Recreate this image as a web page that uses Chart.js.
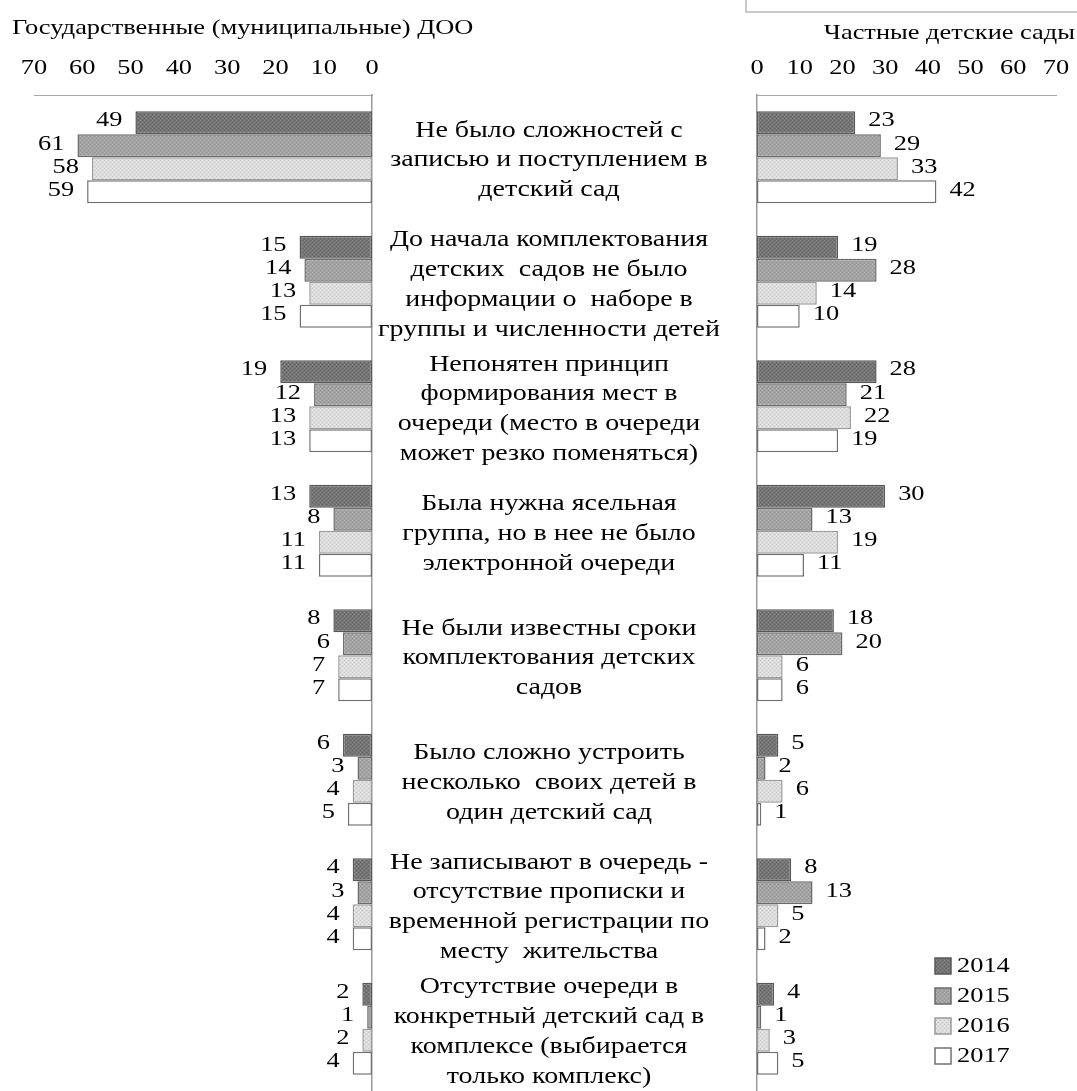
<!DOCTYPE html>
<html><head><meta charset="utf-8">
<script src="https://cdn.jsdelivr.net/npm/chart.js@4.4.1/dist/chart.umd.min.js"></script>
<style>
html,body{margin:0;padding:0;background:#fff;overflow:hidden}
#wrap{position:relative;width:1077px;height:1091px}
canvas{position:absolute;left:0;top:0}
#box{position:absolute;left:745px;top:-10px;width:340px;height:23px;border:2px solid #c9c9c9;box-sizing:border-box}
</style></head><body>
<div id="wrap">
<canvas id="cL" width="1077" height="1091"></canvas>
<canvas id="cR" width="1077" height="1091"></canvas>
<div id="box"></div>
</div>
<script>
// ---------- DATA ----------
const categories = [
  ["Не было сложностей с", "записью и поступлением в", "детский сад"],
  ["До начала комплектования", "детских  садов не было", "информации о  наборе в", "группы и численности детей"],
  ["Непонятен принцип", "формирования мест в", "очереди (место в очереди", "может резко поменяться)"],
  ["Была нужна ясельная", "группа, но в нее не было", "электронной очереди"],
  ["Не были известны сроки", "комплектования детских", "садов"],
  ["Было сложно устроить", "несколько  своих детей в", "один детский сад"],
  ["Не записывают в очередь -", "отсутствие прописки и", "временной регистрации по", "месту  жительства"],
  ["Отсутствие очереди в", "конкретный детский сад в", "комплексе (выбирается", "только комплекс)"]
];
const years = ["2014", "2015", "2016", "2017"];

const gov2014 = [49, 15, 19, 13, 8, 6, 4, 2];
const gov2015 = [61, 14, 12, 8, 6, 3, 3, 1];
const gov2016 = [58, 13, 13, 11, 7, 4, 4, 2];
const gov2017 = [59, 15, 13, 11, 7, 5, 4, 4];

const priv2014 = [23, 19, 28, 30, 18, 5, 8, 4];
const priv2015 = [29, 28, 21, 13, 20, 2, 13, 1];
const priv2016 = [33, 14, 22, 19, 6, 6, 5, 3];
const priv2017 = [42, 10, 19, 11, 6, 1, 2, 5];

const govTitle = "Государственные (муниципальные) ДОО";
const privTitle = "Частные детские сады";
const axisMin = 0, axisMax = 70, axisStep = 10;

// ---------- STYLE ----------
const FONT = '22px "Liberation Serif", "Times New Roman", serif';
const CAT_FONT = '23.3px "Liberation Serif", "Times New Roman", serif';
const SX = 1.2;
function makePattern(base, dot1, dot2) {
  const c = document.createElement('canvas'); c.width = 4; c.height = 4;
  const g = c.getContext('2d');
  g.fillStyle = base; g.fillRect(0, 0, 4, 4);
  if (dot1) { g.fillStyle = dot1; g.fillRect(0, 0, 1, 1); g.fillRect(2, 2, 1, 1); }
  if (dot2) { g.fillStyle = dot2; g.fillRect(2, 0, 1, 1); g.fillRect(0, 2, 1, 1); }
  return g.createPattern(c, 'repeat');
}
const fills = [
  makePattern('#747474', '#858585', '#686868'),
  makePattern('#a2a2a2', '#b2b2b2', '#9a9a9a'),
  makePattern('#dcdcdc', '#cccccc', '#e6e6e6'),
  '#ffffff'
];
const borders = ['#585858', '#6a6a6a', '#9a9a9a', '#707070'];

function drawText(ctx, str, x, y, align, font) {
  ctx.save();
  ctx.font = font || FONT;
  ctx.fillStyle = '#000';
  ctx.textBaseline = 'middle';
  ctx.textAlign = align;
  ctx.translate(x, y);
  ctx.scale(SX, 1);
  ctx.fillText(str, 0, 0);
  ctx.restore();
}

const valueLabels = {
  id: 'valueLabels',
  afterDatasetsDraw(chart) {
    const ctx = chart.ctx;
    const left = chart.options.scales.x.reverse;
    chart.data.datasets.forEach((ds, di) => {
      const meta = chart.getDatasetMeta(di);
      meta.data.forEach((bar, i) => {
        const v = ds.data[i];
        drawText(ctx, String(v), left ? bar.x - 13 : bar.x + 13, bar.y - 2, left ? 'right' : 'left');
      });
    });
  }
};

const axisTicks = {
  id: 'axisTicks',
  afterDraw(chart) {
    const xs = chart.scales.x;
    xs.ticks.forEach(t => drawText(chart.ctx, String(t.value), xs.getPixelForValue(t.value), 68, 'center'));
  }
};

const leftDecor = {
  id: 'leftDecor',
  afterDraw(chart) {
    const ctx = chart.ctx;
    drawText(ctx, govTitle, 12, 28, 'left');
    const ys = chart.scales.y;
    const lh = 29.8;
    categories.forEach((lines, i) => {
      const cy = ys.getPixelForValue(i) + 3;
      lines.forEach((ln, k) => drawText(ctx, ln, 549, cy + (k - (lines.length - 1) / 2) * lh, 'center', CAT_FONT));
    });
  }
};

const rightDecor = {
  id: 'rightDecor',
  afterDraw(chart) {
    const ctx = chart.ctx;
    drawText(ctx, privTitle, 1075, 33, 'right');
    chart.data.datasets.forEach((ds, i) => {
      const y = 966 + i * 30;
      ctx.save();
      ctx.fillStyle = ds.backgroundColor;
      ctx.fillRect(935, y - 8, 16, 16);
      ctx.strokeStyle = ds.borderColor;
      ctx.lineWidth = 1.5;
      ctx.strokeRect(935, y - 8, 16, 16);
      ctx.restore();
      drawText(ctx, ds.label, 957, y, 'left');
    });
  }
};

function makeChart(id, series, side) {
  const isLeft = side === 'L';
  return new Chart(document.getElementById(id), {
    type: 'bar',
    data: {
      labels: categories,
      datasets: years.map((y, i) => ({
        label: y,
        data: series[i],
        backgroundColor: fills[i],
        borderColor: borders[i],
        borderWidth: 1.5,
        borderSkipped: false,
        categoryPercentage: 0.74,
        barPercentage: 1.0
      }))
    },
    options: {
      indexAxis: 'y',
      responsive: false,
      animation: false,
      devicePixelRatio: 1,
      layout: { padding: isLeft ? { left: 34, right: 1077 - 372, top: 95, bottom: 0 }
                                : { left: 757, right: 1077 - 1056, top: 95, bottom: 0 } },
      plugins: { legend: { display: false }, tooltip: { enabled: false }, title: { display: false } },
      scales: {
        x: {
          type: 'linear', position: 'top', reverse: isLeft,
          min: axisMin, max: axisMax,
          ticks: { display: false, stepSize: axisStep },
          grid: { display: false, drawTicks: false },
          border: { display: true, color: '#a8a8a8', width: 1 },
          afterFit: s => { s.height = 0; }
        },
        y: {
          type: 'category', position: isLeft ? 'right' : 'left',
          ticks: { display: false },
          grid: { display: false, drawTicks: false },
          border: { display: true, color: '#9a9a9a', width: 1.5 },
          afterFit: s => { s.width = 0; }
        }
      }
    },
    plugins: isLeft ? [valueLabels, axisTicks, leftDecor] : [valueLabels, axisTicks, rightDecor]
  });
}

makeChart('cL', [gov2014, gov2015, gov2016, gov2017], 'L');
makeChart('cR', [priv2014, priv2015, priv2016, priv2017], 'R');
</script>
</body></html>
